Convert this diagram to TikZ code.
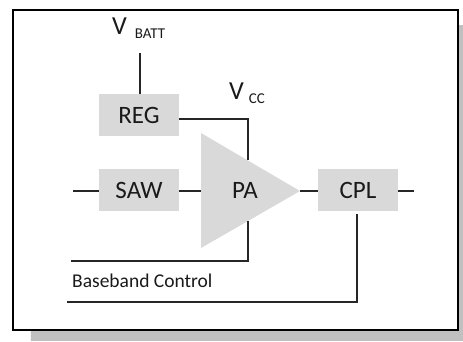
\documentclass[tikz,border=0pt]{standalone}
\usepackage{fontspec}
\setmainfont{Carlito}
\definecolor{boxgray}{HTML}{D9D9D9}
\definecolor{shadowgray}{HTML}{C0C0C0}
\definecolor{txt}{HTML}{1A1A1A}
\begin{document}
\begin{tikzpicture}[x=1pt,y=-1pt,
  blk/.style={fill=boxgray,draw=none,minimum width=80pt,minimum height=42pt,inner sep=0pt,font=\fontsize{25}{25}\selectfont,text=txt},
  wire/.style={line width=1.3pt,black!85}]
\useasboundingbox (0,0) rectangle (463,341);
% shadow
\fill[shadowgray] (30,330) rectangle (463,341);
\fill[shadowgray] (458,25) rectangle (463,341);
\draw[white!90!gray,line width=1pt] (30.5,330) -- (30.5,341);
% frame
\draw[line width=2pt,black] (13,10) rectangle (458,330);
% blocks
\node[blk] (reg) at (139,115) {REG};
\node[blk] (saw) at (139,190) {SAW};
\node[blk] (cpl) at (358,190) {CPL};
\fill[boxgray] (201,133) -- (300,191) -- (201,248) -- cycle;
\coordinate (paL) at (201,191);
\coordinate (paR) at (300,191);
\node[font=\fontsize{25}{25}\selectfont,text=txt] (pa) at (245,190) {PA};
% labels
\node[anchor=base west,inner sep=0pt,text=txt] (vbatt) at (112,34) {\fontsize{26}{26}\selectfont V\hspace{8pt}\raisebox{-4pt}{\fontsize{15}{15}\selectfont BATT}};
\node[anchor=base west,inner sep=0pt,text=txt] (vcc) at (229,99) {\fontsize{26}{26}\selectfont V\hspace{5pt}\raisebox{-4pt}{\fontsize{15}{15}\selectfont CC}};
\node[anchor=base west,inner sep=0pt,text=txt,font=\fontsize{19.5}{19.5}\selectfont] (bb) at (72,287) {Baseband Control};
% coordinates
\coordinate (vbattEnd) at (140,53);
\coordinate (inL) at (73,191);
\coordinate (outR) at (414,191);
\coordinate (vccC) at (248,119);
\coordinate (vccD) at (248,160);
\coordinate (ctlA) at (248,221);
\coordinate (ctlB) at (248,261);
\coordinate (ctlE) at (71,261);
\coordinate (cplA) at (357,214);
\coordinate (cplB) at (357,302);
\coordinate (cplE) at (67,302);
% wires
\draw[wire] (vbattEnd) -- (reg.north -| vbattEnd);
\draw[wire] (reg.east |- vccC) -- (vccC) -- (vccD);
\draw[wire] (inL) -- (saw.west |- inL);
\draw[wire] (saw.east |- inL) -- (paL);
\draw[wire] (paR) -- (cpl.west |- paR);
\draw[wire] (cpl.east |- paR) -- (outR);
\draw[wire] (ctlA) -- (ctlB) -- (ctlE);
\draw[wire] (cplA) -- (cplB) -- (cplE);
\end{tikzpicture}
\end{document}
